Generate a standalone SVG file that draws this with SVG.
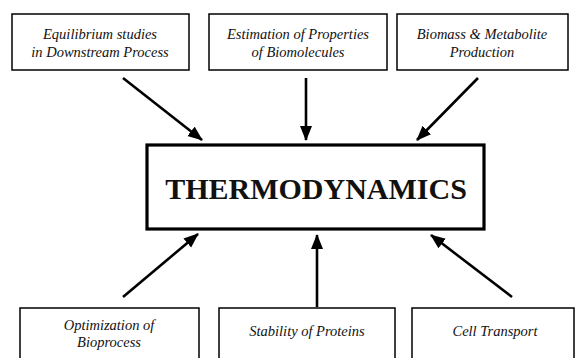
<svg xmlns="http://www.w3.org/2000/svg" width="577" height="358" viewBox="0 0 577 358">
<style>
.box{fill:#fff;stroke:#000;stroke-width:1.5}
.main{fill:#fff;stroke:#000;stroke-width:3.2}
.lbl{font-family:"Liberation Serif","DejaVu Serif",serif;font-style:italic;font-size:14.5px;fill:#111;text-anchor:middle}
.big{font-family:"Liberation Serif","DejaVu Serif",serif;font-weight:bold;font-size:30px;fill:#111;text-anchor:middle}
.arr{stroke:#000;stroke-width:2.6;fill:none;marker-end:url(#ah)}
</style>
<defs>
<marker id="ah" markerUnits="userSpaceOnUse" markerWidth="16" markerHeight="14" refX="14" refY="6" orient="auto">
<path d="M0,0 L15,6 L0,12 Z" fill="#000"/>
</marker>
</defs>
<rect width="577" height="358" fill="#fff"/>
<g id="connectors">
<line class="arr" x1="123" y1="78" x2="202" y2="140"/>
<line class="arr" x1="306" y1="78" x2="306" y2="140"/>
<line class="arr" x1="478" y1="78" x2="417" y2="140"/>
<line class="arr" x1="123" y1="297" x2="198" y2="234"/>
<line class="arr" x1="317" y1="307" x2="317" y2="235"/>
<line class="arr" x1="512" y1="297" x2="431" y2="235"/>
</g>
<g id="n-equilibrium">
<rect class="box" x="12" y="14" width="177" height="56"/>
<text class="lbl" x="100" y="39">Equilibrium studies</text>
<text class="lbl" x="100" y="57">in Downstream Process</text>
</g>
<g id="n-estimation">
<rect class="box" x="209" y="14" width="178" height="56"/>
<text class="lbl" x="298" y="39">Estimation of Properties</text>
<text class="lbl" x="298" y="57">of Biomolecules</text>
</g>
<g id="n-biomass">
<rect class="box" x="397" y="14" width="171" height="56"/>
<text class="lbl" x="482" y="39">Biomass &amp; Metabolite</text>
<text class="lbl" x="482" y="57">Production</text>
</g>
<g id="n-thermo">
<rect class="main" x="147" y="145" width="337" height="84"/>
<text class="big" x="316" y="199">THERMODYNAMICS</text>
</g>
<g id="n-optimization">
<rect class="box" x="20" y="308" width="179" height="60"/>
<text class="lbl" x="109" y="330">Optimization of</text>
<text class="lbl" x="109" y="347">Bioprocess</text>
</g>
<g id="n-stability">
<rect class="box" x="219" y="308" width="176" height="60"/>
<text class="lbl" x="307" y="336">Stability of Proteins</text>
</g>
<g id="n-cell">
<rect class="box" x="412" y="308" width="162" height="60"/>
<text class="lbl" x="495" y="336">Cell Transport</text>
</g>
</svg>
